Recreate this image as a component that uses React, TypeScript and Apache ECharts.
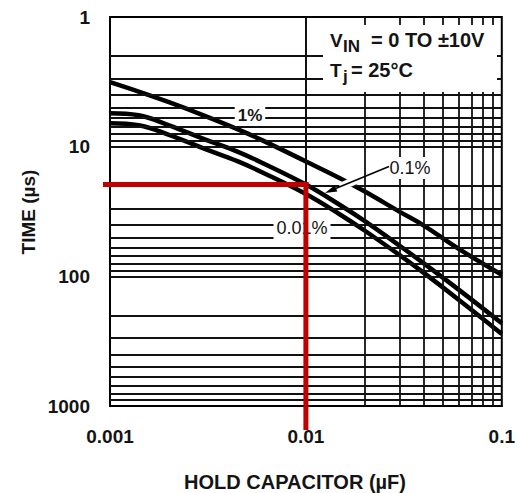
import React, { useEffect, useRef } from 'react';
import * as echarts from 'echarts';

// Hold capacitor (µF)
const capacitance = [0.001, 0.0014, 0.002, 0.003, 0.0045, 0.006, 0.01, 0.015, 0.02, 0.03, 0.04, 0.06, 0.1];
// Acquisition time (µs) for each accuracy
const time1pct = [3.18, 3.76, 4.54, 5.73, 7.35, 8.94, 13.0, 17.6, 22.2, 31.7, 40.6, 61.2, 97.2];
const time01pct = [5.53, 5.73, 6.84, 8.7, 10.97, 13.35, 19.6, 28.3, 37.5, 57.8, 79.5, 126, 230];
const time001pct = [6.6, 6.84, 8.1, 10.31, 12.99, 15.8, 23.2, 33.5, 44.5, 68.4, 94.1, 150.7, 278];

const xTickLabels = ['0.001', '0.01', '0.1'];
const yTickLabels = ['1', '10', '100', '1000'];

const gridCapacitance = [
  0.002, 0.003, 0.004, 0.005, 0.006, 0.007, 0.008, 0.009, 0.01,
  0.02, 0.03, 0.04, 0.05, 0.06, 0.07, 0.08, 0.09,
];
const gridTime = [
  2, 3, 4, 5, 6, 7, 8, 9, 10,
  20, 30, 40, 50, 60, 70, 80, 90, 100,
  200, 300, 400, 500, 600, 700, 800, 900,
];

const markCapacitance = 0.01;
const markTime = 19.6;

export default function App() {
  const ref = useRef<HTMLDivElement>(null);

  useEffect(() => {
    if (!ref.current) return;
    const chart = echarts.init(ref.current, undefined, { renderer: 'svg' });
    const font = '"Liberation Sans", Arial, Helvetica, sans-serif';
    const ink = '#141414';

    const curve = (name: string, vals: number[]) => ({
      name,
      type: 'line',
      data: capacitance.map((c, i) => [c, vals[i]]),
      showSymbol: false,
      symbol: 'none',
      smooth: 0.4,
      silent: true,
      z: 3,
      lineStyle: { color: '#000', width: 4.5 },
    });

    const option: any = {
      animation: false,
      backgroundColor: '#fff',
      grid: {
        left: 110, right: 16, top: 17, bottom: 87,
        show: true, borderColor: '#000', borderWidth: 2, backgroundColor: '#fff',
      },
      xAxis: {
        type: 'log', logBase: 10, min: 0.001, max: 0.1,
        axisLine: { show: true, lineStyle: { color: '#000', width: 2 } },
        axisTick: { show: false },
        splitLine: { show: false },
        axisLabel: {
          margin: 21, fontSize: 19, fontWeight: 'bold', fontFamily: font, color: ink,
          formatter: (v: number) => xTickLabels[Math.round(Math.log10(v)) + 3] ?? '',
        },
      },
      yAxis: {
        type: 'log', logBase: 10, min: 1, max: 1000, inverse: true,
        axisLine: { show: true, lineStyle: { color: '#000', width: 2 } },
        axisTick: { show: false },
        splitLine: { show: false },
        axisLabel: {
          margin: 20, fontSize: 19, fontWeight: 'bold', fontFamily: font, color: ink,
          formatter: (v: number) => yTickLabels[Math.round(Math.log10(v))] ?? '',
        },
      },
      series: [
        {
          ...curve('1%', time1pct),
          markLine: {
            silent: true,
            animation: false,
            symbol: ['none', 'none'],
            label: { show: false },
            lineStyle: { color: '#111', width: 1.8, type: 'solid' },
            data: [
              ...gridCapacitance.map((v) => ({ xAxis: v })),
              ...gridTime.map((v) => ({ yAxis: v })),
            ],
          },
        },
        curve('0.1%', time01pct),
        curve('0.01%', time001pct),
      ],
    };
    chart.setOption(option);

    const [px, py] = chart.convertToPixel({ xAxisIndex: 0, yAxisIndex: 0 }, [markCapacitance, markTime]) as number[];
    const [leftX, bottomY] = chart.convertToPixel({ xAxisIndex: 0, yAxisIndex: 0 }, [0.001, 1000]) as number[];

    const txt = (text: string, x: number, y: number, size: number, weight: string, extra: any = {}) => ({
      type: 'text',
      x, y, z: 10,
      silent: true,
      ...extra,
      style: {
        text, fill: ink, fontSize: size, fontWeight: weight, fontFamily: font,
        align: 'left', verticalAlign: 'middle',
        ...(extra.style || {}),
      },
    });

    const red = '#c00000';

    chart.setOption({
      graphic: [
        // annotation box
        { type: 'rect', z: 10, silent: true, shape: { x: 323, y: 25, width: 174, height: 67 }, style: { fill: '#fff' } },
        txt('V', 330, 40, 19, 'bold'),
        txt('IN', 343, 46, 17, 'bold'),
        txt('= 0 TO ±10V', 371, 40, 20, 'bold'),
        txt('T', 330, 70, 19, 'bold'),
        txt('j', 343, 76, 17, 'bold'),
        txt('= 25°C', 351, 70, 20, 'bold'),
        // curve labels
        txt('1%', 250, 115, 17, 'bold', { style: { align: 'center', backgroundColor: '#fff', padding: [2, 3] } }),
        txt('0.1%', 410, 168, 18, 'normal', { style: { align: 'center', backgroundColor: '#fff', padding: [2, 3] } }),
        txt('0.01%', 302, 228, 18, 'normal', { style: { align: 'center', backgroundColor: '#fff', padding: [2, 3] } }),
        // arrow for 0.1%
        { type: 'line', z: 11, silent: true, shape: { x1: 355, y1: 180.5, x2: 340, y2: 187 }, style: { stroke: '#fff', lineWidth: 8 } },
        { type: 'line', z: 12, silent: true, shape: { x1: 389, y1: 166.5, x2: 332, y2: 190 }, style: { stroke: '#000', lineWidth: 1.5 } },
        { type: 'polygon', z: 12, silent: true, shape: { points: [[325, 193], [337.3, 191.6], [334.7, 185.2]] }, style: { fill: '#000' } },
        // axis titles
        txt('HOLD CAPACITOR (µF)', 295, 482, 20, 'bold', { style: { align: 'center' } }),
        txt('TIME (µs)', 28, 212, 19, 'bold', { rotation: Math.PI / 2, style: { align: 'center' } }),
        // red reading lines
        { type: 'line', z: 20, silent: true, shape: { x1: leftX - 7, y1: py, x2: px + 2.5, y2: py }, style: { stroke: red, lineWidth: 5 } },
        { type: 'line', z: 20, silent: true, shape: { x1: px, y1: py - 2.5, x2: px, y2: bottomY + 24 }, style: { stroke: red, lineWidth: 5 } },
      ],
    });

    return () => chart.dispose();
  }, []);

  return <div ref={ref} style={{ position: 'fixed', left: 0, top: 0, width: 518, height: 493 }} />;
}
